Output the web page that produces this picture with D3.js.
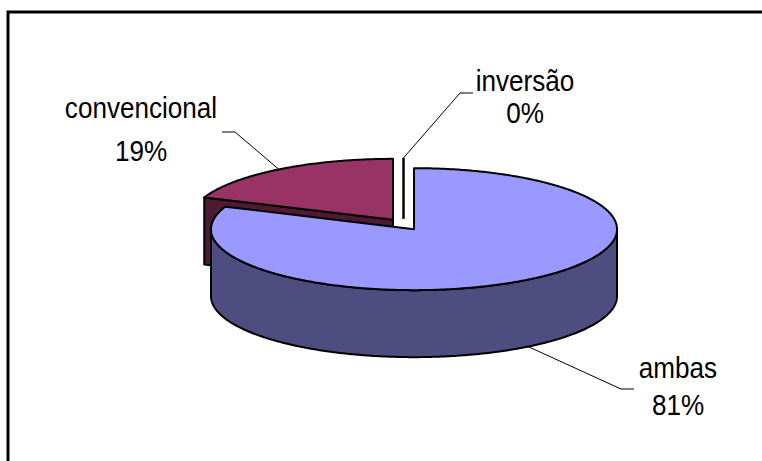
<!DOCTYPE html>
<html>
<head>
<meta charset="utf-8">
<script src="https://cdn.jsdelivr.net/npm/d3@7"></script>
<style>
  html, body { margin: 0; padding: 0; background: #fff; }
  svg { display: block; }
</style>
</head>
<body>
<svg id="chart" width="762" height="461"></svg>
<script>
// chart data
const categories = ["ambas", "convencional", "inversão"];
const values = [81, 19, 0];
const pctLabels = ["81%", "19%", "0%"];

const topColors = ["#9999FF", "#993366", "#FFFFFF"];
const sideColors = ["#4D4D80", "#4D1933", "#FFFFFF"];

// label anchor (leader elbow/end, label centre, baselines of the two lines)
const labelPos = {
    "ambas":        { elbow: [621, 389], end: [634, 389], x: 678, y: 378, gap: 37 },
    "convencional": { elbow: [235, 132], end: [222, 132], x: 141, y: 118, gap: 43 },
    "inversão":     { elbow: [460, 93],  end: [473, 93],  x: 525, y: 91,  gap: 32 }
};

const svg = d3.select("#chart");

// frame
svg.append("path")
    .attr("d", "M8,470V12H770")
    .attr("fill", "none")
    .attr("stroke", "#000")
    .attr("stroke-width", 3);

// 3D pie geometry
const cx = 403.5, cy = 224.5;
const rx = 203, ry = 61, depth = 67;
const explode = 18.7;
const k = ry / rx;

const pie = d3.pie().sort(null).value(d => d.value);
const slices = pie(categories.map((c, i) => ({ name: c, value: values[i], i: i })));

const proj = (ox, oy, a, r, dz) => [ox + r * Math.sin(a), oy - r * Math.cos(a) * k + (dz || 0)];

function arcPoints(ox, oy, a0, a1, dz) {
    const n = Math.max(2, Math.ceil(Math.abs(a1 - a0) / 0.01));
    const pts = [];
    for (let j = 0; j <= n; j++) {
        pts.push(proj(ox, oy, a0 + (a1 - a0) * j / n, rx, dz));
    }
    return pts;
}

const line = d3.line();

slices.forEach(s => {
    const mid = (s.startAngle + s.endAngle) / 2;
    s.ox = cx + explode * Math.sin(mid);
    s.oy = cy - explode * Math.cos(mid) * k;
    s.mid = mid;
});

// back to front
const order = slices.slice().sort((a, b) => a.oy - b.oy);

const g = svg.append("g")
    .attr("stroke", "#000")
    .attr("stroke-width", 2)
    .attr("stroke-linejoin", "round");

order.forEach(s => {
    const a0 = s.startAngle, a1 = s.endAngle;
    const col = topColors[s.data.i], side = sideColors[s.data.i];

    // radial walls facing the viewer
    [[a0, a0 - Math.PI / 2], [a1, a1 + Math.PI / 2]].forEach(([a, nrm]) => {
        if (a1 - a0 > 0 && Math.cos(nrm) < -1e-6) {
            const p = proj(s.ox, s.oy, a, rx);
            const pts = [[s.ox, s.oy], p, [p[0], p[1] + depth], [s.ox, s.oy + depth]];
            g.append("path").attr("d", line(pts) + "Z").attr("fill", side);
        }
    });

    // outer wall, front half only
    const w0 = Math.max(a0, Math.PI / 2), w1 = Math.min(a1, 3 * Math.PI / 2);
    if (w1 > w0) {
        const topArc = arcPoints(s.ox, s.oy, w0, w1, 0);
        const botArc = arcPoints(s.ox, s.oy, w1, w0, depth);
        g.append("path").attr("d", line(topArc.concat(botArc)) + "Z").attr("fill", side);
    }

    // top face
    if (a1 - a0 > 0) {
        const pts = [[s.ox, s.oy]].concat(arcPoints(s.ox, s.oy, a0, a1, 0));
        g.append("path").attr("d", line(pts) + "Z").attr("fill", col);
    } else {
        const p = proj(s.ox, s.oy, a0, rx);
        g.append("path").attr("d", line([[s.ox, s.oy], p])).attr("stroke-width", 2.5);
    }
});

// leader lines and labels
slices.forEach(s => {
    const lp = labelPos[s.data.name];
    const front = Math.cos(s.mid) < 0;
    const start = proj(s.ox, s.oy, s.mid, rx, front ? depth : 0);
    svg.append("path")
        .attr("d", line([start, lp.elbow, lp.end]))
        .attr("fill", "none")
        .attr("stroke", "#000")
        .attr("stroke-width", 1);

    const t = svg.append("g")
        .attr("font-family", "'Liberation Sans', Arial, sans-serif")
        .attr("font-size", 30)
        .attr("fill", "#000")
        .attr("text-anchor", "middle");
    [s.data.name, pctLabels[s.data.i]].forEach((txt, j) => {
        t.append("text")
            .attr("transform", `translate(${lp.x},${lp.y + j * lp.gap}) scale(0.87,1)`)
            .text(txt);
    });
});
</script>
</body>
</html>
